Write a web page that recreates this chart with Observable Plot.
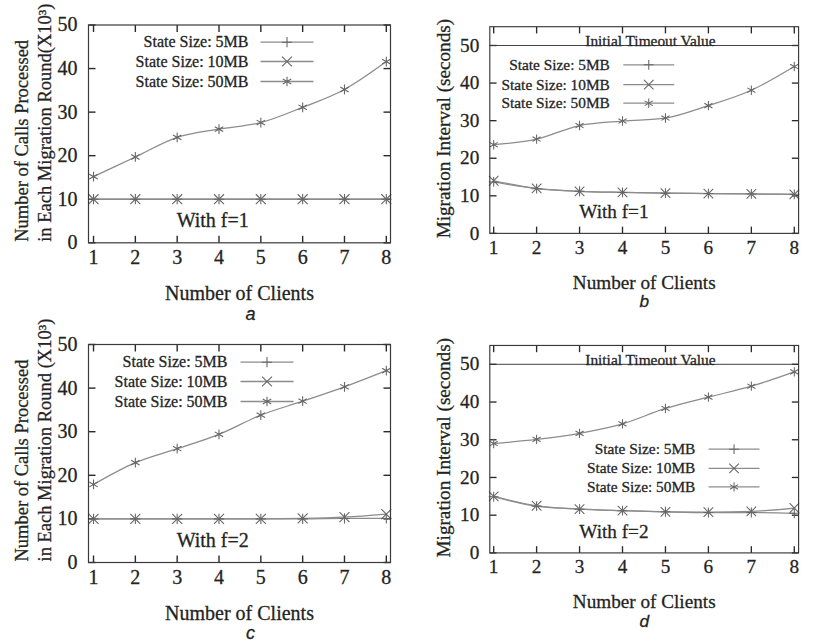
<!DOCTYPE html>
<html><head><meta charset="utf-8">
<script src="https://cdn.jsdelivr.net/npm/d3@7"></script>
<script src="https://cdn.jsdelivr.net/npm/@observablehq/plot@0.6"></script>
<style>
html,body{margin:0;padding:0;background:#fff;overflow:hidden;width:813px;height:644px;}
#wrap{position:relative;width:813px;height:644px;overflow:hidden;background:#fff;}
.panel{position:absolute;}
.panel svg text{stroke:#2a2a2a;stroke-width:0.3px;}
</style></head><body><div id="wrap"></div>
<script>
// ---------- data ----------
const clients = [1, 2, 3, 4, 5, 6, 7, 8];
const seriesNames = ["State Size: 5MB", "State Size: 10MB", "State Size: 50MB"];
const callsTicks = [0, 10, 20, 30, 40, 50];
const intervalTicks = [0, 10, 20, 30, 40, 50];
const timeoutValue = [50];

// a: calls processed, f=1
const callsF1_5MB  = [10, 10, 10, 10, 10, 10, 10, 10];
const callsF1_10MB = [10, 10, 10, 10, 10, 10, 10, 10];
const callsF1_50MB = [15.2, 19.7, 24.2, 26.1, 27.6, 31.1, 35.2, 41.6];
// b: migration interval, f=1
const intF1_5MB  = [13.7, 11.9, 11.2, 10.9, 10.7, 10.6, 10.5, 10.4];
const intF1_10MB = [14.0, 12.0, 11.2, 10.9, 10.7, 10.6, 10.5, 10.4];
const intF1_50MB = [23.6, 25.1, 28.7, 29.9, 30.7, 34.0, 38.1, 44.4];
// c: calls processed, f=2
const callsF2_5MB  = [10, 10, 10, 10, 10, 10, 10.1, 10.1];
const callsF2_10MB = [10, 10, 10, 10, 10, 10.1, 10.4, 11.1];
const callsF2_50MB = [17.9, 22.9, 26.1, 29.4, 33.8, 37.0, 40.3, 44.0];
// d: migration interval, f=2
const intF2_5MB  = [14.9, 12.4, 11.6, 11.2, 10.9, 10.7, 10.7, 10.5];
const intF2_10MB = [15.0, 12.5, 11.6, 11.2, 10.9, 10.8, 11.0, 11.9];
const intF2_50MB = [29.0, 30.1, 31.7, 34.2, 38.3, 41.3, 44.2, 48.0];

// ---------- style ----------
const SERIF = "'Liberation Serif', 'Times New Roman', serif";
const SANS = "'Liberation Sans', Arial, sans-serif";
const lineColor = "#8c8c8c", markColor = "#666", frameColor = "#3a3a3a", textColor = "#222";
const tickColor = "#2a2a2a";
const symbols = ["plus", "times", "asterisk"];
const radii = [3.4, 4.6, 4.6];
const tickLen = 7;
const hLine = {draw(ctx, size) { const r = Math.sqrt(size / Math.PI); ctx.moveTo(-r, 0); ctx.lineTo(r, 0); }};

const rows = vals => clients.map((c, i) => ({x: c, y: vals[i]}));

const panels = [
  {cap: "a", left: 0, top: 0, width: 406, height: 320, mL: 88, mR: 16, mT: 24.5, mB: 77.7,
   xDomain: [0.88, 8.1], yDomain: [0, 50], yTicks: callsTicks,
   series: [callsF1_5MB, callsF1_10MB, callsF1_50MB],
   yLabel: "Number of Calls Processed\nin Each Migration Round(X10\u00b3)", twoLine: true,
   note: "With f=1", noteX: 3.85, noteY: 5.1, capDx: 11,
   leg: {textDx: 160, lineDx: 198.5, dys: [17.2, 36.5, 56.5]}},
  {cap: "b", left: 400, top: 0, width: 430, height: 320, mL: 93, mR: 15.5, mT: 27.3, mB: 77.5,
   xDomain: [0.91, 8.1], yDomain: [0, 55], yTicks: intervalTicks,
   series: [intF1_5MB, intF1_10MB, intF1_50MB],
   yLabel: "Migration Interval (seconds)", twoLine: false, timeout: true,
   note: "With f=1", noteX: 3.8, noteY: 5.7, capDx: 0,
   leg: {textDx: 125, lineDx: 165.5, dys: [39.7, 60.4, 79.7]}},
  {cap: "c", left: 0, top: 320, width: 406, height: 324, mL: 88, mR: 16, mT: 24, mB: 82,
   xDomain: [0.88, 8.1], yDomain: [0, 50], yTicks: callsTicks,
   series: [callsF2_5MB, callsF2_10MB, callsF2_50MB],
   yLabel: "Number of Calls Processed\nin Each Migration Round (X10\u00b3)", twoLine: true,
   note: "With f=2", noteX: 3.85, noteY: 5.0, capDx: 11,
   leg: {textDx: 139, lineDx: 178.5, dys: [17.7, 37, 57]}},
  {cap: "d", left: 400, top: 320, width: 430, height: 324, mL: 93, mR: 15.5, mT: 26, mB: 82,
   xDomain: [0.91, 8.1], yDomain: [0, 55], yTicks: intervalTicks,
   series: [intF2_5MB, intF2_10MB, intF2_50MB],
   yLabel: "Migration Interval (seconds)", twoLine: false, timeout: true,
   note: "With f=2", noteX: 3.8, noteY: 5.6, capDx: 0,
   leg: {textDx: 214, lineDx: 254.3, dys: [108, 128, 147.3]}}
];

function makePanel(p) {
  const fw = p.width - p.mL - p.mR;
  const fh = p.height - p.mT - p.mB;
  const x0 = p.xDomain[0], x1 = p.xDomain[1], y0 = p.yDomain[0], y1 = p.yDomain[1];
  const xk = tickLen * (x1 - x0) / fw;   // tick length in x data units
  const yk = tickLen * (y1 - y0) / fh;   // tick length in y data units
  const marks = [];
  // inward ticks on all four sides (gnuplot style mirrored ticks), drawn as tick-shaped dots
  const vTick = {draw(ctx, size) { const r = Math.sqrt(size / Math.PI); ctx.moveTo(0, -r); ctx.lineTo(0, r); }};
  const hTick = {draw(ctx, size) { const r = Math.sqrt(size / Math.PI); ctx.moveTo(-r, 0); ctx.lineTo(r, 0); }};
  const tk = {stroke: tickColor, strokeWidth: 1.4, fill: "none", r: tickLen / 2};
  marks.push(Plot.dot(clients, {x: d => d, y: () => y0 + yk / 2, symbol: vTick, ...tk}));
  marks.push(Plot.dot(clients, {x: d => d, y: () => y1 - yk / 2, symbol: vTick, ...tk}));
  marks.push(Plot.dot(p.yTicks, {y: d => d, x: () => x0 + xk / 2, symbol: hTick, ...tk}));
  marks.push(Plot.dot(p.yTicks, {y: d => d, x: () => x1 - xk / 2, symbol: hTick, ...tk}));
  // tick labels
  marks.push(Plot.axisX(clients, {anchor: "bottom", tickSize: 0, tickPadding: 7, fontSize: 20, fill: textColor, label: null}));
  marks.push(Plot.axisY(p.yTicks, {anchor: "left", tickSize: 0, tickPadding: 11, fontSize: 20, fill: textColor, label: null}));
  if (p.timeout) {
    marks.push(Plot.ruleY(timeoutValue, {stroke: frameColor, strokeWidth: 1}));
    marks.push(Plot.text(timeoutValue, {x: () => 4.65, y: d => d, text: () => "Initial Timeout Value",
      lineAnchor: "bottom", dy: 0.5, fontSize: 16, fill: textColor}));
  }
  p.series.forEach((vals, i) => {
    marks.push(Plot.line(rows(vals), {x: "x", y: "y", stroke: lineColor, strokeWidth: 1.3, curve: "monotone-x"}));
  });
  p.series.forEach((vals, i) => {
    marks.push(Plot.dot(rows(vals), {x: "x", y: "y", symbol: symbols[i], r: radii[i], stroke: markColor, fill: "none", strokeWidth: 1.1}));
  });
  // legend
  seriesNames.forEach((name, i) => {
    const dy = p.leg.dys[i];
    marks.push(Plot.text([name], {frameAnchor: "top-left", text: d => d, dx: p.leg.textDx, dy,
      textAnchor: "end", lineAnchor: "middle", fontSize: 16, fill: textColor}));
    marks.push(Plot.dot([name], {frameAnchor: "top-left", dx: p.leg.lineDx, dy, r: 26.5, symbol: hLine,
      stroke: lineColor, fill: "none", strokeWidth: 1.3}));
    marks.push(Plot.dot([name], {frameAnchor: "top-left", dx: p.leg.lineDx, dy, r: radii[i], symbol: symbols[i],
      stroke: markColor, fill: "none", strokeWidth: 1.1}));
  });
  // annotation
  marks.push(Plot.text([p.note], {x: () => p.noteX, y: () => p.noteY, text: d => d, fontSize: 20, fill: textColor, lineAnchor: "middle"}));
  // axis labels
  marks.push(Plot.text(["Number of Clients"], {frameAnchor: "bottom", text: d => d, dy: 51, lineAnchor: "middle", fontSize: 20, fill: textColor}));
  if (p.twoLine) {
    marks.push(Plot.text([p.yLabel], {frameAnchor: "bottom-left", text: d => d, rotate: -90, textAnchor: "start",
      lineAnchor: "middle", lineHeight: 1.22, dx: -56.5, dy: -1, fontSize: 18.5, fill: textColor}));
  } else {
    marks.push(Plot.text([p.yLabel], {frameAnchor: "left", text: d => d, rotate: -90, textAnchor: "middle",
      lineAnchor: "middle", dx: -48, dy: -1.5, fontSize: 20, fill: textColor}));
  }
  // sub-caption
  marks.push(Plot.text([p.cap], {frameAnchor: "bottom", text: d => d, dy: 71, dx: p.capDx, lineAnchor: "middle",
    fontSize: 18, fontStyle: "italic", fontFamily: SANS, fill: textColor}));
  marks.push(Plot.frame({stroke: frameColor, strokeWidth: 1.2}));

  return Plot.plot({
    width: p.width, height: p.height,
    marginLeft: p.mL, marginRight: p.mR, marginTop: p.mT, marginBottom: p.mB,
    x: {type: "linear", domain: p.xDomain},
    y: {type: "linear", domain: p.yDomain},
    style: {fontFamily: SERIF, fontSize: "20px", background: "none", overflow: "visible"},
    marks
  });
}

const wrap = document.getElementById("wrap");
panels.forEach(p => {
  const div = document.createElement("div");
  div.className = "panel";
  div.style.left = p.left + "px";
  div.style.top = p.top + "px";
  div.appendChild(makePanel(p));
  wrap.appendChild(div);
});
</script></body></html>
